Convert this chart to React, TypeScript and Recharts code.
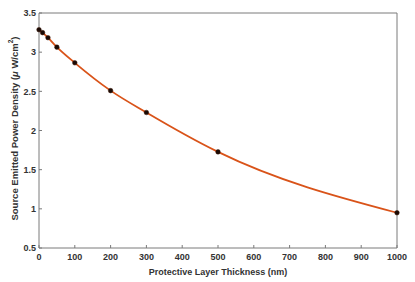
import React from "react";
import { LineChart, Line, XAxis, YAxis, Label } from "recharts";

const thickness = [0, 10, 25, 50, 100, 200, 300, 500, 1000];
const density = [3.287, 3.249, 3.185, 3.064, 2.864, 2.509, 2.23, 1.727, 0.95];
const xTicks = [0, 100, 200, 300, 400, 500, 600, 700, 800, 900, 1000];
const yTicks = [0.5, 1, 1.5, 2, 2.5, 3, 3.5];

const data = thickness.map((t, i) => ({ t, p: density[i] }));

const axisColor = "#7a7a7a";
const font = "Liberation Sans, Arial, sans-serif";
const tickStyle = { fontSize: 9, fontWeight: 700, fill: "#333", fontFamily: font };

const YTitle = (props: any) => {
  const vb = props.viewBox;
  const x = 14;
  const y = vb.y + vb.height / 2 - 2;
  return (
    <text
      x={x}
      y={y}
      transform={`rotate(-90, ${x}, ${y})`}
      textAnchor="middle"
      dominantBaseline="central"
      style={{ fontSize: 9.5, fontWeight: 700, fill: "#333", fontFamily: font }}
    >
      Source Emitted Power Density (
      <tspan fontStyle="italic">μ</tspan> W/cm
      <tspan dy={-4} fontSize={6.5}>2</tspan>
      <tspan dy={4}>)</tspan>
    </text>
  );
};

const App: React.FC = () => {
  return (
    <div style={{ position: "absolute", left: 0, top: 0, background: "#fff" }}>
      <LineChart
        width={415}
        height={282}
        data={data}
        margin={{ top: 12, right: 17, bottom: 0, left: 0 }}
      >
        <XAxis
          dataKey="t"
          type="number"
          domain={[0, 1000]}
          ticks={xTicks}
          interval={0}
          tickSize={-3}
          tickMargin={9}
          height={34}
          stroke={axisColor}
          tick={tickStyle}
        >
          <Label
            value="Protective Layer Thickness (nm)"
            position="insideBottom"
            offset={7}
            style={{ fontSize: 9, fontWeight: 700, fill: "#333", fontFamily: font }}
          />
        </XAxis>
        <XAxis
          xAxisId="top"
          orientation="top"
          dataKey="t"
          type="number"
          domain={[0, 1000]}
          ticks={xTicks}
          interval={0}
          tickSize={-3}
          height={1}
          stroke={axisColor}
          tick={false}
        />
        <YAxis
          type="number"
          domain={[0.5, 3.5]}
          ticks={yTicks}
          interval={0}
          width={39}
          tickSize={-3}
          tickMargin={6}
          stroke={axisColor}
          tick={tickStyle}
        >
          <Label content={<YTitle />} />
        </YAxis>
        <YAxis
          yAxisId="right"
          orientation="right"
          type="number"
          domain={[0.5, 3.5]}
          ticks={yTicks}
          interval={0}
          width={1}
          tickSize={-3}
          stroke={axisColor}
          tick={false}
        />
        <Line
          dataKey="p"
          type="monotone"
          stroke="#D95319"
          strokeWidth={1.8}
          dot={{ r: 2.3, fill: "#1a0a05", stroke: "#3a1505", strokeWidth: 0.5 }}
          isAnimationActive={false}
        />
      </LineChart>
    </div>
  );
};

export default App;
